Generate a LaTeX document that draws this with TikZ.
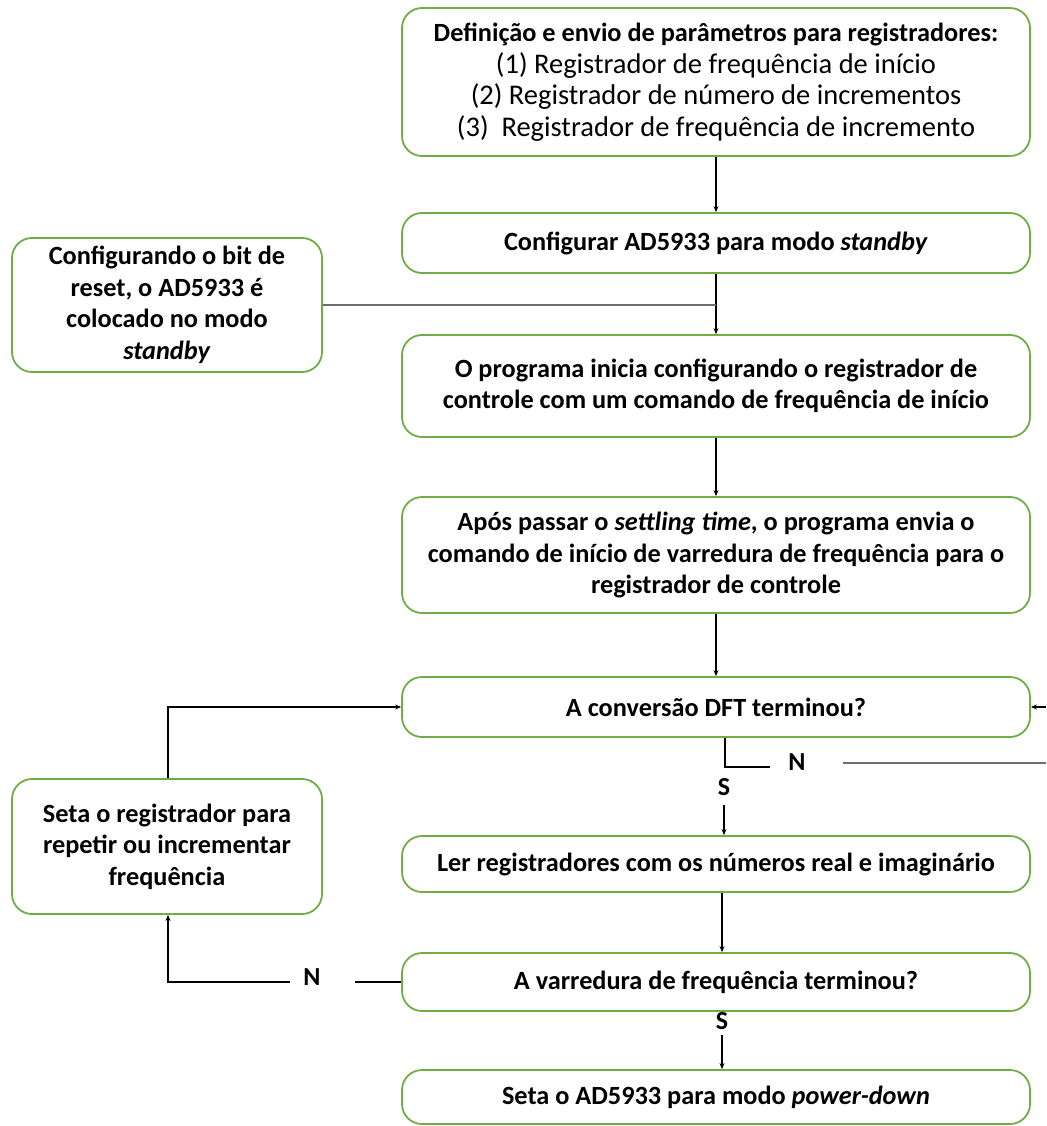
\documentclass[tikz,border=0pt]{standalone}
\usepackage{fontspec}
\setmainfont{Carlito}
\usetikzlibrary{arrows.meta}
\definecolor{boxgreen}{RGB}{112,173,71}
\definecolor{lgray}{RGB}{110,110,110}
\newcommand{\regline}[1]{{\fontsize{28.5}{32}\selectfont\mdseries #1}}
\begin{document}
\begin{tikzpicture}[x=1pt,y=-1pt,
  box/.style={draw=boxgreen,line width=1.8pt,rounded corners=20pt,minimum width=628pt,align=center,inner sep=0pt,font=\fontsize{26.3}{31.5}\selectfont\bfseries},
  sidebox/.style={box,minimum width=310pt},
  lbl/.style={font=\fontsize{26}{31}\selectfont\bfseries,inner sep=0pt},
  conn/.style={draw=black,line width=1.2pt},
  arr/.style={conn,-{Stealth[length=6pt,width=5pt]}}]
\useasboundingbox (0,0) rectangle (1046,1126);
\node[box,minimum height=148pt] (b1) at (716,82) {Definição e envio de parâmetros para registradores:\\
\regline{(1) Registrador de frequência de início}\\
\regline{(2) Registrador de número de incrementos}\\
\regline{(3)\ \ Registrador de frequência de incremento}};
\node[box,minimum height=60pt] (b2) at (716,243) {Configurar AD5933 para modo \textit{standby}};
\node[sidebox,minimum height=134pt] (l1) at (167,305) {Configurando o bit de\\reset, o AD5933 é\\colocado no modo\\\textit{standby}};
\node[box,minimum height=102pt] (b3) at (716,386) {O programa inicia configurando o registrador de\\controle com um comando de frequência de início};
\node[box,minimum height=116pt] (b4) at (716,555) {Após passar o \textit{settling time}, o programa envia o\\comando de início de varredura de frequência para o\\registrador de controle};
\node[box,minimum height=60pt] (b5) at (716,707) {A conversão DFT terminou?};
\node[sidebox,minimum height=135pt] (l2) at (167,846.5) {Seta o registrador para\\repetir ou incrementar\\frequência};
\node[box,minimum height=56pt] (b6) at (716,864) {Ler registradores com os números real e imaginário};
\node[box,minimum height=58pt] (b7) at (716,982) {A varredura de frequência terminou?};
\node[box,minimum height=54pt] (b8) at (716,1097) {Seta o AD5933 para modo \textit{power-down}};
% labels
\node[lbl] (n1) at (797,762) {N};
\node[lbl] (s1) at (724,787) {S};
\node[lbl] (n2) at (312,977) {N};
\node[lbl] (s2) at (722,1021) {S};
% coordinates
\coordinate (j1) at (716,305);
\coordinate (c1) at (725,767);
\coordinate (c2) at (770,767);
\coordinate (c3) at (843,763);
\coordinate (c4) at (1046,763);
\coordinate (c5) at (1046,707);
\coordinate (c6) at (724,805);
\coordinate (c7) at (355,982);
\coordinate (c8) at (290,982);
\coordinate (c9) at (722,1035);
% connectors
\draw[arr] (b1.south) -- (b2.north);
\draw[arr] (b2.south) -- (b3.north);
\draw[conn,draw=lgray,line width=1.8pt] (l1.east) -- (j1);
\draw[arr] (b3.south) -- (b4.north);
\draw[arr] (b4.south) -- (b5.north);
\draw[conn] (c1 |- b5.south) -- (c1) -- (c2);
\draw[conn,draw=lgray,line width=2pt] (c3) -- (c4);
\draw[arr] (c5) -- (b5.east);
\draw[arr] (c6) -- (c6 |- b6.north);
\draw[arr] (c9 |- b6.south) -- (c9 |- b7.north);
\draw[arr] (c9) -- (c9 |- b8.north);
\draw[conn] (b7.west |- c7) -- (c7);
\draw[arr] (c8) -- (168,982) -- (l2.south -| 168,0);
\draw[arr] (l2.north -| 168,0) -- (168,707) -- (b5.west);
\end{tikzpicture}
\end{document}
